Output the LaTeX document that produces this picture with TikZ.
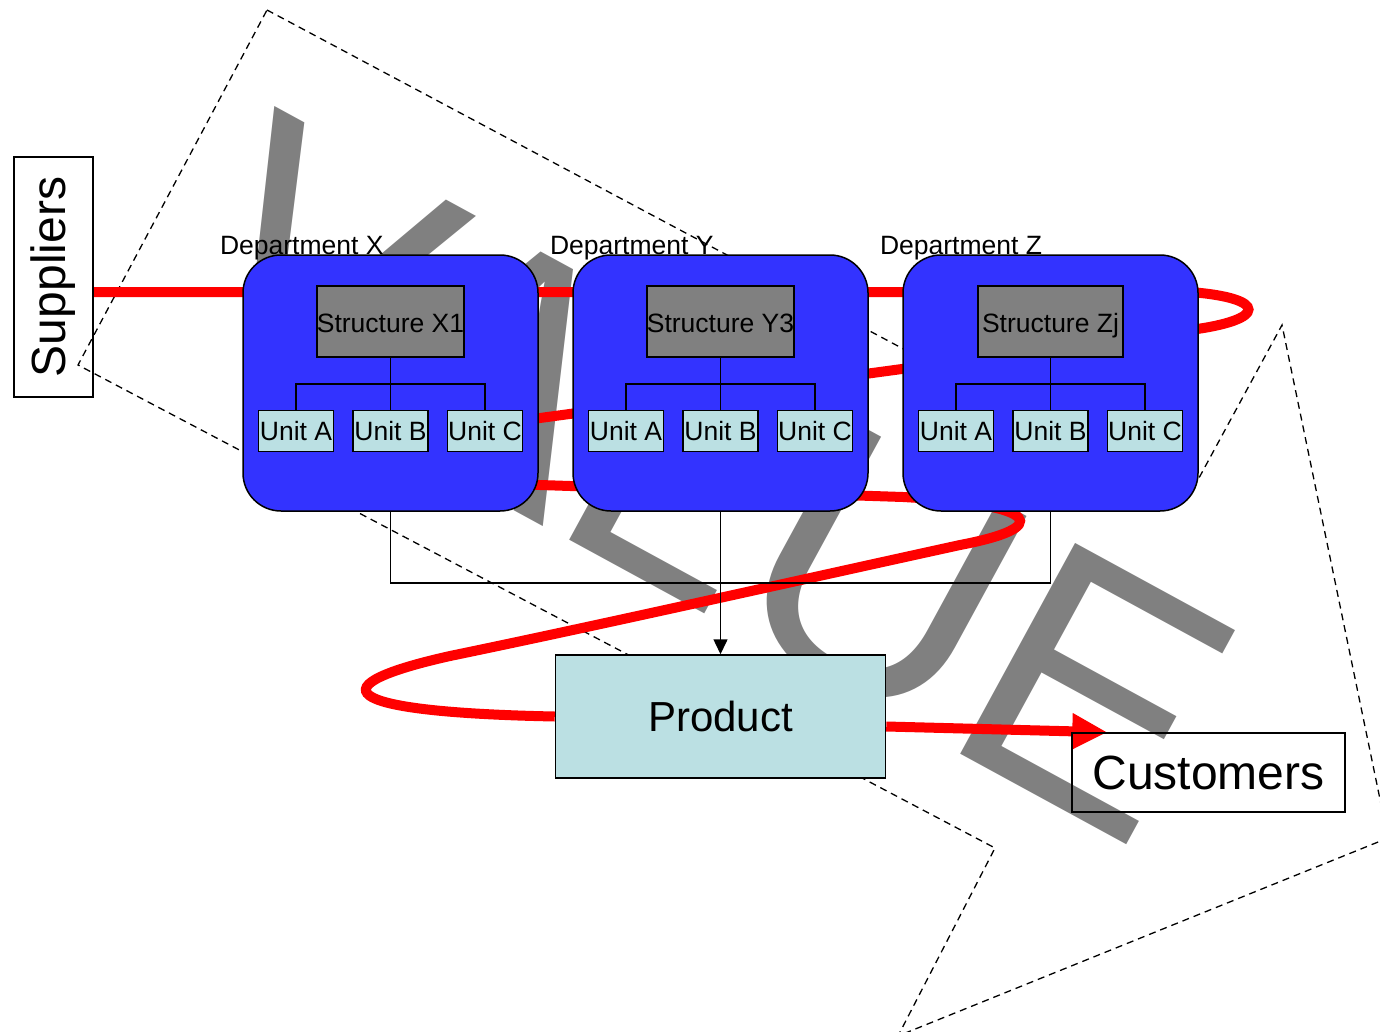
\documentclass[tikz,border=0pt]{standalone}
\usepackage{fontspec}
\setmainfont{Liberation Sans}
\usetikzlibrary{arrows.meta,positioning,backgrounds}

\definecolor{deptblue}{HTML}{3333FF}
\definecolor{unitblue}{HTML}{BBE0E3}
\definecolor{valuegray}{HTML}{808080}

\begin{document}
\begin{tikzpicture}[x=1pt, y=-1pt, line width=1.5pt, dept/.style={rectangle,draw,fill=deptblue,rounded corners=38pt,minimum width=295pt,minimum height=256pt}, struct/.style={rectangle,draw,fill=valuegray,minimum width=145pt,minimum height=71pt,inner sep=0pt,text height=21pt,text depth=0pt,font=\fontsize{26.5}{31}\selectfont}, unit/.style={rectangle,draw,fill=unitblue,minimum width=75pt,minimum height=41pt,inner sep=0pt,text height=19pt,text depth=0pt,font=\fontsize{26.5}{31}\selectfont}, deptname/.style={anchor=base west,inner sep=0pt,font=\fontsize{26.5}{31}\selectfont}, party/.style={rectangle,draw,inner sep=0pt,font=\fontsize{48}{57}\selectfont}, flow/.style={red,line width=10pt}, line/.style={-{Triangle[length=15pt,width=14pt]}}]
\useasboundingbox (0,0) rectangle (1380,1032);
\clip (0,0) rectangle (1380,1032);
% departments with their structure and units
\node[dept] (dX) at (390.5,383) {};
\node[dept,right=33.5pt of dX] (dY) {};
\node[dept,right=33.5pt of dY] (dZ) {};
\node[deptname] (nX) at ([xshift=-23pt]dX.north west) {Department X};
\node[deptname] (nY) at ([xshift=-23pt]dY.north west) {Department Y};
\node[deptname] (nZ) at ([xshift=-23pt]dZ.north west) {Department Z};
\node[struct,below=31pt of dX.north] (sX) {Structure X1};
\node[struct,below=31pt of dY.north] (sY) {Structure Y3};
\node[struct,below=31pt of dZ.north] (sZ) {Structure Zj};
\node[unit,below=52pt of sX] (uXB) {Unit B};
\node[unit,left=18pt of uXB] (uXA) {Unit A};
\node[unit,right=18pt of uXB] (uXC) {Unit C};
\node[unit,below=52pt of sY] (uYB) {Unit B};
\node[unit,left=18pt of uYB] (uYA) {Unit A};
\node[unit,right=18pt of uYB] (uYC) {Unit C};
\node[unit,below=52pt of sZ] (uZB) {Unit B};
\node[unit,left=18pt of uZB] (uZA) {Unit A};
\node[unit,right=18pt of uZB] (uZC) {Unit C};
\draw (sX.south) -- (uXB.north);
\draw (uXA.north) |- ([yshift=-26pt]sX.south) -| (uXC.north);
\draw (sY.south) -- (uYB.north);
\draw (uYA.north) |- ([yshift=-26pt]sY.south) -| (uYC.north);
\draw (sZ.south) -- (uZB.north);
\draw (uZA.north) |- ([yshift=-26pt]sZ.south) -| (uZC.north);
% product and the two ends of the chain
\node[rectangle,draw,fill=unitblue,minimum width=330pt,minimum height=123pt,inner sep=0pt,text height=30pt,text depth=0pt,font=\fontsize{42}{50}\selectfont] (prod) at (dY |- 0,716.5) {Product};
\node[party,minimum width=79pt,minimum height=240pt] (sup) at (53.5,277) {\rotatebox{90}{Suppliers}};
\node[party,minimum width=273pt,minimum height=79pt] (cust) at (1208.5,772.5) {Customers};
\draw (dX.south) -- ++(0,71) -| (dZ.south);
\draw[line] (dY.south) -- (prod.north);
\begin{scope}[on background layer]
% big arrow, the word and the value stream behind it all
\draw[dashed,line width=1.3pt,dash pattern=on 7pt off 5pt] (267,10) -- (1187,500) -- (1282,325) -- (1388,838) -- (898,1036) -- (995,848) -- (78,365) -- cycle;
\node[rotate=-28.6,anchor=base west,inner sep=0pt,text=valuegray,font=\fontsize{349}{420}\selectfont] (val) at (158,316) {VALUE};
\draw[flow] ([yshift=-15pt]sup.east) -- (1190,292) .. controls (1268,298) and (1268,320) .. (1190,330) -- (540,418) .. controls (380,440) and (380,480) .. (540,485) -- (903,497) .. controls (1045,505) and (1050,528) .. (960,545) .. controls (800,580) and (600,625) .. (450,656) .. controls (320,685) and (330,712) .. (prod.west);
\draw[flow,-{Triangle[length=35pt,width=34pt]}] ([yshift=-10pt]prod.east) -- ([xshift=36pt]cust.north west);
\end{scope}
\end{tikzpicture}
\end{document}
